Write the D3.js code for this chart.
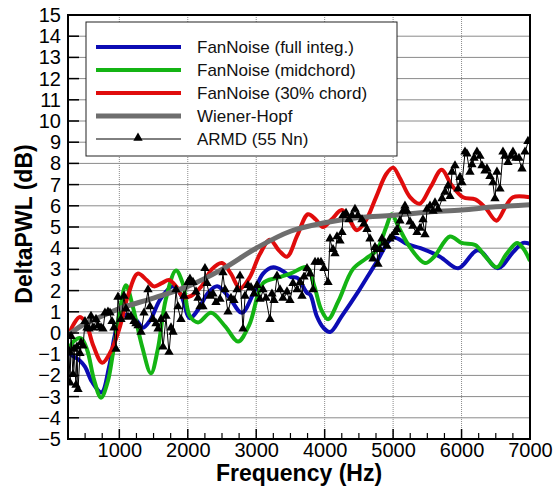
<!DOCTYPE html>
<html>
<head>
<meta charset="utf-8">
<script src="https://cdn.jsdelivr.net/npm/d3@7"></script>
<style>
  body { margin: 0; background: #fff; }
  svg { font-family: "Liberation Sans", Arial, sans-serif; }
</style>
</head>
<body>
<div class="svg"></div>
<script>
// tick labels
var xTicks = [1000, 2000, 3000, 4000, 5000, 6000, 7000];
var yTicks = [-5, -4, -3, -2, -1, 0, 1, 2, 3, 4, 5, 6, 7, 8, 9, 10, 11, 12, 13, 14, 15];

// FanNoise (full integ.)
var fullFreq = [250, 330, 420, 500, 600, 740, 850, 950, 1050, 1150, 1250, 1345, 1450, 1600, 1780, 1900, 2030, 2150, 2300, 2430, 2600, 2790, 2950, 3100, 3250, 3400, 3500, 3600, 3740, 3790, 3884, 3980, 4080, 4250, 4500, 4750, 5000, 5200, 5400, 5685, 5950, 6240, 6530, 6750, 6900, 7000];
var fullVal = [-0.9, -1.1, -1.3, -1.6, -2.3, -2.8, -1.6, 0.1, 0.8, 0.85, 0.6, 0.25, 0.6, 1.6, 2.2, 1.8, 0.7, 1.1, 1.9, 2.2, 1.7, 0.95, 1.8, 2.8, 3.1, 2.9, 2.65, 2.6, 1.9, 1.8, 0.8, 0.25, 0.05, 0.8, 2.0, 3.3, 4.5, 4.2, 4.0, 3.6, 3.05, 3.9, 3.05, 3.8, 4.25, 4.2];

// FanNoise (midchord)
var midFreq = [250, 330, 440, 530, 630, 732, 830, 907, 1000, 1097, 1200, 1330, 1462, 1560, 1680, 1828, 1930, 2030, 2150, 2340, 2550, 2735, 2900, 3100, 3300, 3500, 3740, 3850, 3950, 4050, 4200, 4410, 4600, 4760, 4900, 4980, 5080, 5245, 5465, 5600, 5830, 6000, 6200, 6350, 6515, 6650, 6810, 6900, 7000];
var midVal = [-0.9, -0.4, -0.25, -0.8, -2.2, -3.05, -2.3, -0.95, 0.9, 2.25, 1.2, -0.6, -1.9, -0.8, 1.6, 2.95, 2.3, 0.8, 0.5, 0.95, 0.3, -0.4, 0.4, 2.35, 2.6, 2.8, 3.1, 2.2, 1.1, 0.65, 1.5, 3.0, 3.5, 3.9, 5.0, 5.6, 5.0, 4.05, 3.3, 3.6, 4.55, 4.25, 4.15, 3.6, 3.1, 3.7, 4.25, 4.0, 3.4];

// FanNoise (30% chord)
var chordFreq = [250, 330, 425, 520, 620, 750, 870, 1000, 1130, 1268, 1400, 1506, 1620, 1725, 1830, 1930, 2050, 2200, 2350, 2500, 2630, 2763, 2900, 3050, 3200, 3330, 3450, 3600, 3756, 3870, 3975, 4100, 4250, 4370, 4470, 4600, 4750, 4900, 5000, 5100, 5250, 5390, 5550, 5710, 5850, 6020, 6200, 6350, 6510, 6650, 6750, 7000];
var chordVal = [-0.2, 0.4, 0.75, 0.4, -0.6, -1.4, -0.9, 0.2, 1.8, 2.8, 2.5, 2.2, 2.35, 2.5, 2.2, 1.7, 1.75, 2.2, 3.0, 3.3, 2.8, 2.1, 2.6, 3.7, 4.4, 3.9, 3.6, 4.6, 5.6, 5.35, 5.0, 5.35, 5.8, 5.3, 4.85, 5.3, 6.4, 7.5, 7.8, 7.3, 6.4, 6.1, 6.9, 7.7, 7.0, 6.4, 6.3, 5.9, 5.3, 6.0, 6.4, 6.4];

// Wiener-Hopf
var whFreq = [250, 500, 750, 1000, 1500, 2000, 2500, 3000, 3500, 4000, 4500, 5000, 5500, 6000, 6500, 7000];
var whVal = [-0.1, 0.45, 0.8, 1.15, 1.65, 2.2, 3.0, 4.0, 4.8, 5.2, 5.45, 5.55, 5.7, 5.8, 5.95, 6.05];

// ARMD (55 Nn)
var armdFreq = [265, 280, 295, 323, 338, 367, 381, 396, 425, 440, 469, 498, 528, 557, 586, 615, 659, 688, 732, 761, 790, 834, 864, 893, 922, 951, 980, 1024, 1068, 1097, 1127, 1170, 1214, 1243, 1273, 1317, 1360, 1419, 1448, 1492, 1536, 1565, 1609, 1638, 1682, 1726, 1755, 1784, 1828, 1857, 1901, 1945, 2003, 2032, 2076, 2120, 2149, 2178, 2222, 2251, 2281, 2325, 2368, 2412, 2471, 2514, 2544, 2588, 2631, 2675, 2719, 2763, 2807, 2836, 2880, 2924, 2968, 3011, 3055, 3099, 3143, 3201, 3230, 3260, 3304, 3347, 3391, 3450, 3493, 3537, 3596, 3640, 3669, 3698, 3742, 3786, 3830, 3859, 3903, 3946, 3990, 4049, 4078, 4122, 4151, 4180, 4224, 4253, 4268, 4312, 4355, 4399, 4443, 4487, 4545, 4575, 4618, 4662, 4706, 4735, 4764, 4779, 4808, 4837, 4881, 4910, 4954, 4983, 5027, 5057, 5100, 5144, 5173, 5203, 5247, 5290, 5349, 5393, 5436, 5466, 5495, 5539, 5583, 5612, 5656, 5714, 5758, 5802, 5831, 5860, 5904, 5948, 5977, 6006, 6050, 6079, 6123, 6152, 6182, 6225, 6269, 6298, 6342, 6371, 6415, 6459, 6488, 6517, 6561, 6605, 6634, 6678, 6722, 6751, 6795, 6839, 6883, 6927, 6970];
var armdVal = [-0.9, -2.4, -0.2, -2.0, -0.8, -2.5, -0.7, -2.7, -1.0, -0.5, -0.65, 0.5, 0.2, 0.15, 0.75, 0.2, 0.6, 0.3, 0.2, 0.15, 0.9, 0.95, 0.9, 0.5, 0.2, -0.8, 1.65, 0.6, 1.7, 1.1, 0.7, 0.75, 0.5, 0.4, 0.3, 0.0, 0.9, 2.0, 1.2, 0.6, 0.4, 0.15, 0.6, -0.7, 0.75, -0.95, 0.2, 0.0, 2.0, 1.2, 0.6, 1.7, 2.35, 2.5, 2.35, 1.9, 1.6, 1.2, 1.2, 3.0, 2.3, 1.7, 1.8, 1.4, 1.55, 2.8, 2.0, 0.95, 1.6, 1.5, 2.0, 2.65, 0.15, 1.7, 2.2, 2.1, 1.8, 2.2, 1.55, 2.0, 1.6, 0.6, 1.8, 1.5, 2.65, 2.0, 1.6, 1.9, 1.5, 2.3, 2.0, 2.35, 1.7, 2.6, 3.0, 2.75, 2.0, 3.3, 3.3, 3.3, 3.0, 2.35, 4.4, 3.9, 3.7, 4.5, 4.3, 4.7, 5.5, 5.6, 5.3, 5.5, 5.8, 5.5, 5.3, 5.1, 4.85, 4.4, 3.45, 4.0, 3.9, 3.2, 3.9, 4.4, 4.2, 4.05, 4.4, 4.5, 4.7, 4.85, 5.25, 5.7, 5.95, 5.7, 5.2, 5.0, 4.7, 4.9, 5.3, 4.6, 5.8, 5.95, 5.7, 6.1, 5.8, 6.3, 6.6, 6.9, 6.4, 7.55, 7.85, 6.75, 7.3, 7.05, 8.5, 8.4, 7.55, 7.9, 8.2, 8.5, 8.3, 7.85, 7.6, 7.7, 7.35, 7.05, 6.3, 7.55, 6.75, 8.5, 8.3, 8.0, 8.3, 8.5, 8.2, 8.2, 7.7, 8.5, 9.0];

var w = 557;
var h = 486;
var margin = { top: 15, bottom: 47, left: 68, right: 27 };
var width = w - margin.left - margin.right;
var height = h - margin.top - margin.bottom;

var svg = d3.select(".svg").append("svg").attr("width", w).attr("height", h);
var chart = svg.append("g")
  .attr("transform", "translate(" + margin.left + "," + margin.top + ")");

var xScale = d3.scaleLinear().domain([250, 7000]).range([0, width]);
var yScale = d3.scaleLinear().domain([-5, 15]).range([height, 0]);

function zip(fs, vs) {
  return fs.map(function(f, i) { return { f: f, v: vs[i] }; });
}

// grid
chart.append("g").attr("class", "grid")
  .selectAll("line.h").data(yTicks).enter().append("line")
  .attr("x1", 0).attr("x2", width)
  .attr("y1", function(d) { return yScale(d); })
  .attr("y2", function(d) { return yScale(d); })
  .attr("stroke", "#8a8a8a").attr("stroke-width", 1);

chart.append("g").attr("class", "grid")
  .selectAll("line.v").data(xTicks).enter().append("line")
  .attr("y1", 0).attr("y2", height)
  .attr("x1", function(d) { return xScale(d); })
  .attr("x2", function(d) { return xScale(d); })
  .attr("stroke", "#8a8a8a").attr("stroke-width", 1)
  .attr("stroke-dasharray", "1,1");

svg.append("clipPath").attr("id", "clip").append("rect")
  .attr("width", width).attr("height", height);

var plot = chart.append("g").attr("clip-path", "url(#clip)");

var line = d3.line()
  .x(function(d) { return xScale(d.f); })
  .y(function(d) { return yScale(d.v); })
  .curve(d3.curveCatmullRom.alpha(0.5));

var series = [
  { name: "FanNoise (full integ.)", data: zip(fullFreq, fullVal), color: "#0c0cb4", width: 4 },
  { name: "FanNoise (midchord)", data: zip(midFreq, midVal), color: "#14b414", width: 4 },
  { name: "FanNoise (30% chord)", data: zip(chordFreq, chordVal), color: "#e00c0c", width: 4 },
  { name: "Wiener-Hopf", data: zip(whFreq, whVal), color: "#6e6e6e", width: 5 }
];

series.forEach(function(s) {
  plot.append("path")
    .datum(s.data)
    .attr("fill", "none")
    .attr("stroke", s.color)
    .attr("stroke-width", s.width)
    .attr("d", line);
});

var armd = zip(armdFreq, armdVal);
var armdLine = d3.line()
  .x(function(d) { return xScale(d.f); })
  .y(function(d) { return yScale(d.v); });

plot.append("path")
  .datum(armd)
  .attr("fill", "none")
  .attr("stroke", "#000")
  .attr("stroke-width", 1)
  .attr("d", armdLine);

var tri = d3.symbol().type(d3.symbolTriangle).size(38);
plot.selectAll(".marker").data(armd).enter().append("path")
  .attr("class", "marker")
  .attr("d", tri)
  .attr("fill", "#000")
  .attr("transform", function(d) {
    return "translate(" + xScale(d.f) + "," + (yScale(d.v) - 1) + ")";
  });

// axes
var yAxis = d3.axisLeft(yScale).tickValues(yTicks).tickSize(0).tickPadding(7)
  .tickFormat(d3.format("d"));
var xAxis = d3.axisBottom(xScale).tickValues(xTicks).tickSize(0).tickPadding(4)
  .tickFormat(d3.format("d"));

var gy = chart.append("g").attr("class", "y axis").call(yAxis);
var gx = chart.append("g").attr("class", "x axis")
  .attr("transform", "translate(0," + height + ")").call(xAxis);

[gx, gy].forEach(function(g) {
  g.select(".domain").remove();
  g.selectAll("text")
    .attr("fill", "#000")
    .style("font-size", "20px")
    .style("font-family", "'Liberation Sans', Arial, sans-serif");
});

// inward ticks
chart.append("g").selectAll("line").data(yTicks).enter().append("line")
  .attr("x1", 0).attr("x2", 11)
  .attr("y1", function(d) { return yScale(d); })
  .attr("y2", function(d) { return yScale(d); })
  .attr("stroke", "#000").attr("stroke-width", 1.5);

var minorTicks = d3.range(500, 7000, 250).filter(function(d) { return d % 1000 !== 0; });
chart.append("g").selectAll("line").data(minorTicks).enter().append("line")
  .attr("x1", function(d) { return xScale(d); })
  .attr("x2", function(d) { return xScale(d); })
  .attr("y1", height).attr("y2", height - 6)
  .attr("stroke", "#000").attr("stroke-width", 1.2);

chart.append("g").selectAll("line").data(xTicks).enter().append("line")
  .attr("x1", function(d) { return xScale(d); })
  .attr("x2", function(d) { return xScale(d); })
  .attr("y1", height).attr("y2", height - 10)
  .attr("stroke", "#000").attr("stroke-width", 1.5);

// frame
chart.append("rect")
  .attr("width", width).attr("height", height)
  .attr("fill", "none").attr("stroke", "#000").attr("stroke-width", 2);

// axis titles
svg.append("text")
  .attr("x", margin.left + width / 2).attr("y", 481)
  .attr("text-anchor", "middle")
  .style("font-size", "23px").style("font-weight", "bold")
  .text("Frequency (Hz)");

svg.append("text")
  .attr("transform", "translate(32," + 224 + ") rotate(-90)")
  .attr("text-anchor", "middle")
  .style("font-size", "23px").style("font-weight", "bold")
  .text("DeltaPWL (dB)");

// legend
var legend = svg.append("g").attr("class", "legend");
legend.append("rect")
  .attr("x", 86).attr("y", 22).attr("width", 311).attr("height", 134)
  .attr("fill", "#fff").attr("stroke", "#222").attr("stroke-width", 1);

var legendItems = series.concat([{ name: "ARMD (55 Nn)", color: "#000", width: 1, marker: true }]);
legendItems.forEach(function(s, i) {
  var ly = 47 + i * 23;
  legend.append("line")
    .attr("x1", 96).attr("x2", 181).attr("y1", ly).attr("y2", ly)
    .attr("stroke", s.color).attr("stroke-width", s.width);
  if (s.marker) {
    legend.append("path").attr("d", tri).attr("fill", "#000")
      .attr("transform", "translate(138," + (ly - 1) + ")");
  }
  legend.append("text")
    .attr("x", 197).attr("y", ly + 6)
    .style("font-size", "17px")
    .attr("fill", "#111")
    .text(s.name);
});
</script>
</body>
</html>
